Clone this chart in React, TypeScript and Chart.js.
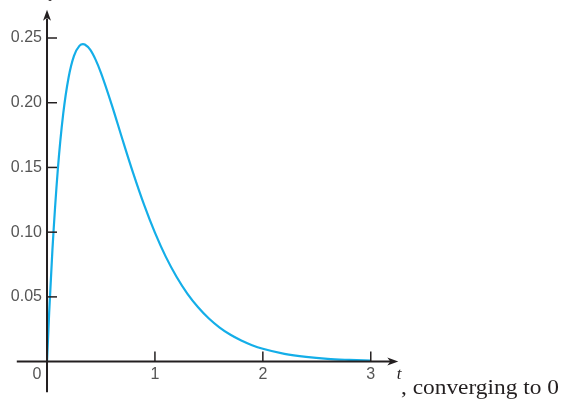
import React, { useEffect, useRef } from "react";
import { Chart, registerables } from "chart.js";

Chart.register(...registerables);

const tValues = [0, 0.02, 0.05, 0.1, 0.15, 0.2, 0.25, 0.3, 0.333, 0.35, 0.4, 0.45, 0.5, 0.6, 0.7, 0.8, 0.9, 1.0, 1.1, 1.2, 1.3, 1.4, 1.5, 1.6, 1.7, 1.8, 1.9, 2.0, 2.2, 2.4, 2.6, 2.8, 3.0];
const yValues = [0, 0.0377, 0.0861, 0.1482, 0.1913, 0.2195, 0.2362, 0.2439, 0.2453, 0.2450, 0.2410, 0.2333, 0.2231, 0.1984, 0.1714, 0.1452, 0.1210, 0.0996, 0.0811, 0.0656, 0.0526, 0.0420, 0.0333, 0.0263, 0.0207, 0.0163, 0.0127, 0.0099, 0.0060, 0.0036, 0.0021, 0.0013, 0.0007];
const xTicks = [1, 2, 3];
const xTickLabels = ["1", "2", "3"];
const yTicks = [0.05, 0.1, 0.15, 0.2, 0.25];
const yTickLabels = ["0.05", "0.10", "0.15", "0.20", "0.25"];
const originLabel = "0";
const xAxisTitle = "t";
const yAxisTitle = "y";
const caption = ", converging to 0";

const AXIS = "#231f20";
const LABEL = "#555555";
const CURVE = "#14aee8";

const axesPlugin = {
  id: "customAxes",
  afterDatasetsDraw(chart: any) {
    const ctx = chart.ctx;
    const xs = chart.scales.x;
    const ys = chart.scales.y;
    const x0 = xs.getPixelForValue(0);
    const y0 = ys.getPixelForValue(0);
    ctx.save();
    ctx.strokeStyle = AXIS;
    ctx.fillStyle = AXIS;
    ctx.lineWidth = 2;
    // y axis
    ctx.beginPath();
    ctx.moveTo(x0, ys.getPixelForValue(-0.0236));
    ctx.lineTo(x0, ys.getPixelForValue(0.265));
    ctx.stroke();
    ctx.beginPath();
    ctx.moveTo(x0, ys.getPixelForValue(0.2718));
    ctx.lineTo(x0 - 4, ys.getPixelForValue(0.2718) + 11);
    ctx.lineTo(x0, ys.getPixelForValue(0.2718) + 8);
    ctx.lineTo(x0 + 4, ys.getPixelForValue(0.2718) + 11);
    ctx.closePath();
    ctx.fill();
    // x axis
    ctx.beginPath();
    ctx.moveTo(xs.getPixelForValue(-0.28), y0);
    ctx.lineTo(xs.getPixelForValue(3.2), y0);
    ctx.stroke();
    const xe = xs.getPixelForValue(3.255);
    ctx.beginPath();
    ctx.moveTo(xe, y0);
    ctx.lineTo(xe - 11, y0 - 4);
    ctx.lineTo(xe - 8, y0);
    ctx.lineTo(xe - 11, y0 + 4);
    ctx.closePath();
    ctx.fill();
    // ticks
    ctx.lineWidth = 1.5;
    xTicks.forEach((v) => {
      const px = xs.getPixelForValue(v);
      ctx.beginPath();
      ctx.moveTo(px, y0);
      ctx.lineTo(px, y0 - 10);
      ctx.stroke();
    });
    yTicks.forEach((v) => {
      const py = ys.getPixelForValue(v);
      ctx.beginPath();
      ctx.moveTo(x0, py);
      ctx.lineTo(x0 + 10, py);
      ctx.stroke();
    });
    // labels
    ctx.fillStyle = LABEL;
    ctx.font = "16px 'Liberation Sans', Arial, sans-serif";
    ctx.textBaseline = "middle";
    ctx.textAlign = "center";
    xTicks.forEach((v, i) => {
      ctx.fillText(xTickLabels[i], xs.getPixelForValue(v), y0 + 13);
    });
    ctx.fillText(originLabel, x0 - 10, y0 + 13);
    ctx.textAlign = "right";
    yTicks.forEach((v, i) => {
      ctx.fillText(yTickLabels[i], x0 - 5, ys.getPixelForValue(v));
    });
    // axis titles
    ctx.fillStyle = AXIS;
    ctx.textAlign = "left";
    ctx.textBaseline = "alphabetic";
    ctx.font = "italic 17px 'Liberation Serif', 'Times New Roman', serif";
    ctx.fillText(xAxisTitle, xs.getPixelForValue(3.24), y0 + 17);
    ctx.fillText(yAxisTitle, x0 + 3, -3);
    ctx.font = "21px 'Liberation Serif', 'Times New Roman', serif";
    const cx = xs.getPixelForValue(3.28);
    const w = ctx.measureText(caption).width;
    const sx = 158 / w;
    ctx.translate(cx, y0 + 32);
    ctx.scale(sx, 1);
    ctx.fillText(caption, 0, 0);
    ctx.restore();
  },
};

export default function App() {
  const ref = useRef<HTMLCanvasElement>(null);
  useEffect(() => {
    if (!ref.current) return;
    const chart = new Chart(ref.current, {
      type: "line",
      data: {
        datasets: [
          {
            data: tValues.map((t, i) => ({ x: t, y: yValues[i] })),
            borderColor: CURVE,
            borderWidth: 2.2,
            pointRadius: 0,
            cubicInterpolationMode: "monotone",
            fill: false,
          },
        ],
      },
      options: {
        animation: false,
        responsive: false,
        maintainAspectRatio: false,
        layout: { padding: 0 },
        plugins: { legend: { display: false }, tooltip: { enabled: false } },
        scales: {
          x: { type: "linear", min: -0.4356, max: 4.809, display: false },
          y: { type: "linear", min: -0.02889, max: 0.27936, display: false },
        },
      },
      plugins: [axesPlugin],
    } as any);
    return () => chart.destroy();
  }, []);
  return (
    <div style={{ position: "fixed", left: 0, top: 0, width: 566, height: 399, background: "#fff" }}>
      <canvas ref={ref} width={566} height={399} style={{ display: "block" }} />
    </div>
  );
}
